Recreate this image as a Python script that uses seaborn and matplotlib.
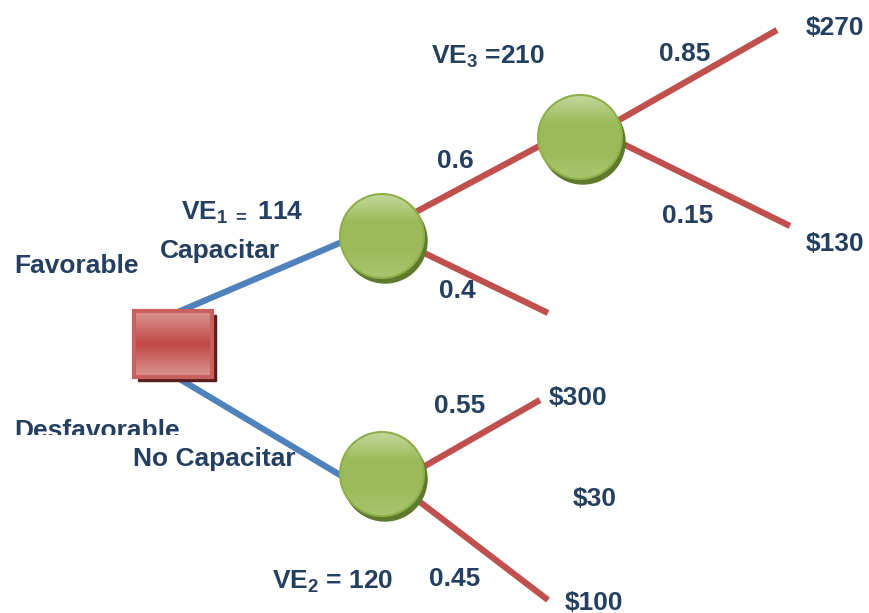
import numpy as np
import matplotlib
matplotlib.use("Agg")
import matplotlib.pyplot as plt
import seaborn as sns
from matplotlib.patches import Circle, Rectangle
from matplotlib.transforms import Bbox

# Decision tree content
decisions = ["Capacitar", "No Capacitar"]
states = ["Favorable", "Desfavorable"]
probs_cap = ["0.6", "0.4"]
probs_cap2 = ["0.85", "0.15"]
probs_nocap = ["0.55", "0.45"]
payoffs_cap2 = ["$270", "$130"]
payoffs_nocap = ["$300", "$100"]
extra_payoff = "$30"
ev_labels = [r"VE$_{1\ =}$ 114", r"VE$_{2}$ = 120", r"VE$_{3}$ =210"]

sns.set_theme(style="white")
plt.rcParams["font.family"] = ["Liberation Sans", "DejaVu Sans"]
plt.rcParams["mathtext.fontset"] = "custom"
plt.rcParams["mathtext.rm"] = "Liberation Sans:bold"
plt.rcParams["mathtext.it"] = "Liberation Sans:bold"
plt.rcParams["mathtext.bf"] = "Liberation Sans:bold"
plt.rcParams["mathtext.default"] = "rm"

W, H = 869, 613
fig = plt.figure(figsize=(W / 100, H / 100), dpi=100)
ax = fig.add_axes([0, 0, 1, 1])
ax.set_xlim(0, W)
ax.set_ylim(H, 0)
ax.axis("off")

blue = "#4f81bd"
red = "#c0504d"
navy = "#243f60"

# Node layout (pixel space)
sq = (134, 311, 78, 66)
c1 = (382, 236)
c2 = (580, 137)
c3 = (382, 474)
R = 42


def seg(p, q, color):
    sns.lineplot(x=[p[0], q[0]], y=[p[1], q[1]], color=color, lw=4.5,
                 ax=ax, sort=False, estimator=None, zorder=1,
                 solid_capstyle="butt")


# decision branches
seg((178, 312), (342, 242), blue)
seg((178, 378), (345, 478), blue)
# chance branches
seg((412, 214), (545, 143), red)
seg((418, 250), (548, 313), red)
seg((612, 124), (777, 30), red)
seg((615, 140), (790, 226), red)
seg((418, 470), (540, 400), red)
seg((420, 502), (548, 600), red)

# decision square with shadow and gradient
x0, y0, w, h = sq
ax.add_patch(Rectangle((x0 + 4, y0 + 4), w, h, color="#5a1f1d", zorder=2))
grad = np.abs(np.linspace(-1, 1, 64))[:, None]
cmap_r = matplotlib.colors.LinearSegmentedColormap.from_list(
    "r", ["#bf4a47", "#dc9694"])
ax.imshow(grad, extent=(x0, x0 + w, y0 + h, y0), cmap=cmap_r,
          aspect="auto", zorder=3, interpolation="bilinear")
ax.add_patch(Rectangle((x0, y0), w, h, fill=False, ec="#c9605d", lw=3, zorder=4))

# chance circles
cmap_g = matplotlib.colors.LinearSegmentedColormap.from_list(
    "g", ["#c4d89c", "#9bbb59", "#9bbb59", "#a9c66e"])
gy = np.linspace(0, 1, 128)[:, None]
for (cx, cy) in (c1, c2, c3):
    ax.add_patch(Circle((cx + 3, cy + 5), R, color="#5f7a2c", zorder=2))
    clip = Circle((cx, cy), R, transform=ax.transData)
    gi = ax.imshow(gy, extent=(cx - R, cx + R, cy + R, cy - R), cmap=cmap_g,
                   aspect="auto", zorder=3, interpolation="bilinear")
    gi.set_clip_path(clip)
    ax.add_patch(Circle((cx, cy), R, fill=False, ec="#8eb04a", lw=1.5, zorder=4))

fs = 19
kw = dict(color=navy, fontsize=fs, fontweight="bold", ha="center",
          va="center", zorder=5)

ax.text(835, 28, payoffs_cap2[0], **kw)
ax.text(835, 244, payoffs_cap2[1], **kw)
ax.text(685, 54, probs_cap2[0], **kw)
ax.text(688, 216, probs_cap2[1], **kw)
ax.text(488, 57, ev_labels[2], **kw)
ax.text(455, 161, probs_cap[0], **kw)
ax.text(457, 291, probs_cap[1], **kw)
ax.text(242, 213, ev_labels[0], **kw)
ax.text(220, 251, decisions[0], **kw)
ax.text(76, 266, states[0], **kw)
t = ax.text(97, 431, states[1], **kw)
t.set_clip_on(True)
t.set_clip_box(Bbox.from_extents(0, H - 435, 300, H - 400))
ax.text(214, 459, decisions[1], **kw)
ax.text(460, 406, probs_nocap[0], **kw)
ax.text(578, 398, payoffs_nocap[0], **kw)
ax.text(595, 499, extra_payoff, **kw)
ax.text(333, 582, ev_labels[1], **kw)
ax.text(455, 579, probs_nocap[1], **kw)
ax.text(594, 603, payoffs_nocap[1], **kw)

fig.savefig("out.png", dpi=100)
